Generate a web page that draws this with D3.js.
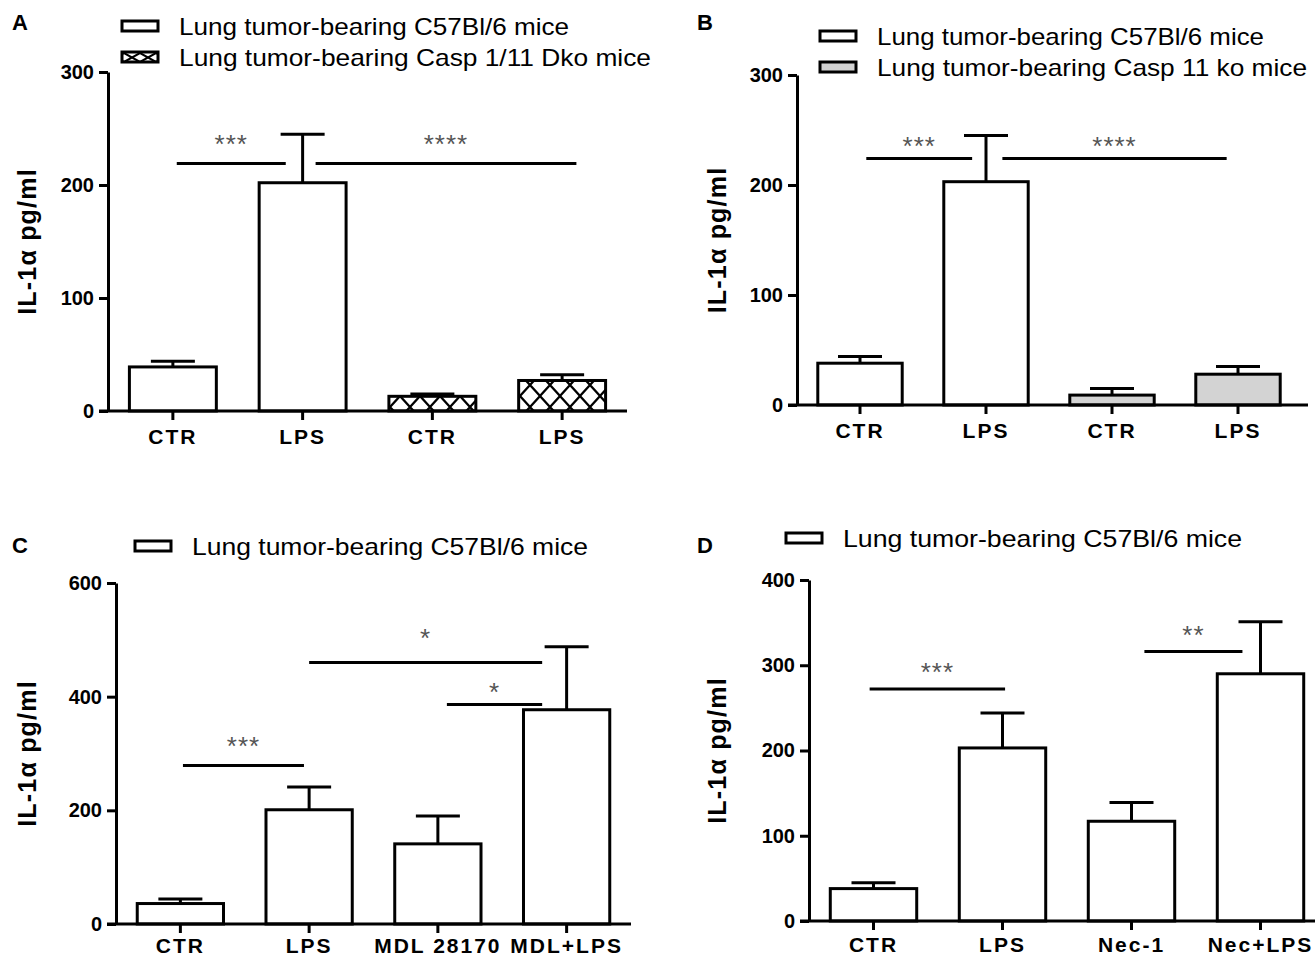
<!DOCTYPE html>
<html>
<head>
<meta charset="utf-8">
<script src="https://cdn.jsdelivr.net/npm/d3@7"></script>
<style>
    body { margin: 0; background: #fff; }
    text { font-family: "Liberation Sans", Arial, sans-serif; }
</style>
</head>
<body>
<script>
    // ---- values ----
    let catsA = ["CTR", "LPS", "CTR", "LPS"];
    let meansA = [39, 202, 13, 27];
    let errA = [5, 43, 2, 5];
    let groupA = [0, 0, 1, 1];
    let ticksA = [0, 100, 200, 300];
    let legendA = ["Lung tumor-bearing C57Bl/6 mice", "Lung tumor-bearing Casp 1/11 Dko mice"];
    let sigA = [
        {from: 0.03, to: 0.87, y: 219, label: "***", labelY: 242},
        {from: 1.10, to: 3.11, y: 219, label: "****", labelY: 242}
    ];

    let catsB = ["CTR", "LPS", "CTR", "LPS"];
    let meansB = [38, 203, 9, 28];
    let errB = [6, 42, 6, 7];
    let groupB = [0, 0, 1, 1];
    let ticksB = [0, 100, 200, 300];
    let legendB = ["Lung tumor-bearing C57Bl/6 mice", "Lung tumor-bearing Casp 11 ko mice"];
    let sigB = [
        {from: 0.05, to: 0.89, y: 224, label: "***", labelY: 241},
        {from: 1.13, to: 2.91, y: 224, label: "****", labelY: 241}
    ];

    let catsC = ["CTR", "LPS", "MDL 28170", "MDL+LPS"];
    let meansC = [36, 201, 141, 377];
    let errC = [8, 40, 49, 111];
    let groupC = [0, 0, 0, 0];
    let ticksC = [0, 200, 400, 600];
    let legendC = ["Lung tumor-bearing C57Bl/6 mice"];
    let sigC = [
        {from: 0.02, to: 0.96, y: 279, label: "***", labelY: 323},
        {from: 1.00, to: 2.81, y: 460, label: "*", labelY: 514},
        {from: 2.07, to: 2.81, y: 386, label: "*", labelY: 418}
    ];

    let catsD = ["CTR", "LPS", "Nec-1", "Nec+LPS"];
    let meansD = [38, 203, 117, 290];
    let errD = [7, 41, 22, 61];
    let groupD = [0, 0, 0, 0];
    let ticksD = [0, 100, 200, 300, 400];
    let legendD = ["Lung tumor-bearing C57Bl/6 mice"];
    let sigD = [
        {from: -0.03, to: 1.02, y: 272, label: "***", labelY: 299},
        {from: 2.10, to: 2.86, y: 316, label: "**", labelY: 342}
    ];

    let w = 1315;
    let h = 959;
    let svg = d3.select("body")
        .append("svg")
        .attr("width", w)
        .attr("height", h)
        .style("display", "block");

    let defs = svg.append("defs");
    let hatch = defs.append("pattern")
        .attr("id", "hatch")
        .attr("patternUnits", "userSpaceOnUse")
        .attr("width", 20)
        .attr("height", 22);
    hatch.append("path")
        .attr("d", "M0,0L20,22M20,0L0,22")
        .attr("stroke", "#000")
        .attr("stroke-width", 2.2);

    let hatchSmall = defs.append("pattern")
        .attr("id", "hatchSmall")
        .attr("patternUnits", "userSpaceOnUse")
        .attr("x", 124)
        .attr("y", 53)
        .attr("width", 16)
        .attr("height", 9);
    hatchSmall.append("path")
        .attr("d", "M0,0L16,9M16,0L0,9")
        .attr("stroke", "#000")
        .attr("stroke-width", 2);

    let drawPanel = (p) => {
        let g = svg.append("g");

        let x = d3.scaleBand()
            .domain(d3.range(p.cats.length))
            .range(p.xRange)
            .paddingInner(0.33)
            .paddingOuter(0.165);
        let bw = x.bandwidth();
        let xc = (i) => x(0) + bw / 2 + i * x.step();

        let y = d3.scaleLinear()
            .domain([0, p.yMax])
            .range(p.yRange);

        // panel letter
        g.append("text")
            .attr("x", p.letterPos[0])
            .attr("y", p.letterPos[1])
            .attr("font-size", 22)
            .attr("font-weight", "bold")
            .text(p.letter);

        // legend
        p.legend.forEach((d, i) => {
            g.append("rect")
                .attr("x", p.legendX)
                .attr("y", p.legendY[i] - 5)
                .attr("width", 36)
                .attr("height", 10)
                .attr("fill", p.legendFills[i])
                .attr("stroke", "#000")
                .attr("stroke-width", 3);
            g.append("text")
                .attr("x", p.legendX + 57)
                .attr("y", p.legendY[i] + 8.5)
                .attr("font-size", 24)
                .attr("textLength", p.legendLen[i])
                .attr("lengthAdjust", "spacingAndGlyphs")
                .text(d);
        });

        // y axis
        let yAxis = d3.axisLeft(y)
            .tickValues(p.ticks)
            .tickSize(9)
            .tickSizeOuter(0)
            .tickPadding(5)
            .tickFormat(d3.format("d"));
        let ya = g.append("g")
            .attr("transform", "translate(" + p.xRange[0] + ",0)")
            .call(yAxis);
        ya.select(".domain").attr("stroke-width", 3);
        ya.selectAll(".tick line").attr("stroke-width", 3);
        ya.selectAll(".tick text")
            .attr("font-size", 20)
            .attr("font-weight", "bold")
            .attr("font-family", "Liberation Sans, Arial, sans-serif")
            .attr("fill", "#000");

        // y title
        g.append("text")
            .attr("transform", "translate(" + p.titleX + "," + (p.yRange[0] + p.yRange[1]) / 2 + ") rotate(-90)")
            .attr("text-anchor", "middle")
            .attr("font-size", 25)
            .attr("font-weight", "bold")
            .attr("letter-spacing", 1.2)
            .text("IL-1\u03b1 pg/ml");

        // bars
        g.selectAll(".bar")
            .data(p.means)
            .enter()
            .append("rect")
            .attr("class", "bar")
            .attr("x", (d, i) => x(i))
            .attr("y", (d) => y(d))
            .attr("width", bw)
            .attr("height", (d) => y(0) - y(d))
            .attr("fill", (d, i) => p.fills[p.groups[i]])
            .attr("stroke", "#000")
            .attr("stroke-width", 3);

        // error bars
        p.means.forEach((d, i) => {
            g.append("line")
                .attr("x1", xc(i)).attr("x2", xc(i))
                .attr("y1", y(d)).attr("y2", y(d + p.errs[i]))
                .attr("stroke", "#000")
                .attr("stroke-width", 3);
            g.append("line")
                .attr("x1", xc(i) - 22).attr("x2", xc(i) + 22)
                .attr("y1", y(d + p.errs[i])).attr("y2", y(d + p.errs[i]))
                .attr("stroke", "#000")
                .attr("stroke-width", 3);
        });

        // x axis
        g.append("line")
            .attr("x1", p.xRange[0] - 9).attr("x2", p.axisEnd)
            .attr("y1", y(0)).attr("y2", y(0))
            .attr("stroke", "#000")
            .attr("stroke-width", 3);
        p.cats.forEach((d, i) => {
            g.append("line")
                .attr("x1", xc(i)).attr("x2", xc(i))
                .attr("y1", y(0)).attr("y2", y(0) + 9)
                .attr("stroke", "#000")
                .attr("stroke-width", 3);
            g.append("text")
                .attr("x", xc(i))
                .attr("y", y(0) + p.labelOffset)
                .attr("text-anchor", "middle")
                .attr("font-size", 21)
                .attr("font-weight", "bold")
                .attr("letter-spacing", 2)
                .text(d);
        });

        // significance lines
        p.sig.forEach((s) => {
            g.append("line")
                .attr("x1", xc(s.from)).attr("x2", xc(s.to))
                .attr("y1", y(s.y)).attr("y2", y(s.y))
                .attr("stroke", "#000")
                .attr("stroke-width", 3);
            g.append("text")
                .attr("x", (xc(s.from) + xc(s.to)) / 2)
                .attr("y", y(s.labelY) + 15)
                .attr("text-anchor", "middle")
                .attr("font-size", 26)
                .attr("letter-spacing", 1)
                .attr("fill", "#555")
                .text(s.label);
        });
    };

    drawPanel({
        letter: "A", letterPos: [12, 30],
        cats: catsA, means: meansA, errs: errA, groups: groupA, ticks: ticksA, yMax: 300,
        legend: legendA, sig: sigA,
        xRange: [108, 627], axisEnd: 627, yRange: [411, 72], labelOffset: 33,
        fills: ["#fff", "url(#hatch)"], legendFills: ["#fff", "url(#hatchSmall)"],
        legendX: 122, legendY: [26, 57], legendLen: [390, 472],
        titleX: 36
    });

    drawPanel({
        letter: "B", letterPos: [697, 30],
        cats: catsB, means: meansB, errs: errB, groups: groupB, ticks: ticksB, yMax: 300,
        legend: legendB, sig: sigB,
        xRange: [797, 1301], axisEnd: 1308, yRange: [405, 75], labelOffset: 33,
        fills: ["#fff", "#d3d3d3"], legendFills: ["#fff", "#d3d3d3"],
        legendX: 820, legendY: [36, 67], legendLen: [387, 430],
        titleX: 726
    });

    drawPanel({
        letter: "C", letterPos: [12, 553],
        cats: catsC, means: meansC, errs: errC, groups: groupC, ticks: ticksC, yMax: 600,
        legend: legendC, sig: sigC,
        xRange: [116, 631], axisEnd: 631, yRange: [924, 583], labelOffset: 29,
        fills: ["#fff"], legendFills: ["#fff"],
        legendX: 135, legendY: [546], legendLen: [396],
        titleX: 36
    });

    drawPanel({
        letter: "D", letterPos: [697, 553],
        cats: catsD, means: meansD, errs: errD, groups: groupD, ticks: ticksD, yMax: 400,
        legend: legendD, sig: sigD,
        xRange: [809, 1325], axisEnd: 1315, yRange: [921, 580], labelOffset: 31,
        fills: ["#fff"], legendFills: ["#fff"],
        legendX: 786, legendY: [538], legendLen: [399],
        titleX: 726
    });
</script>
</body>
</html>
